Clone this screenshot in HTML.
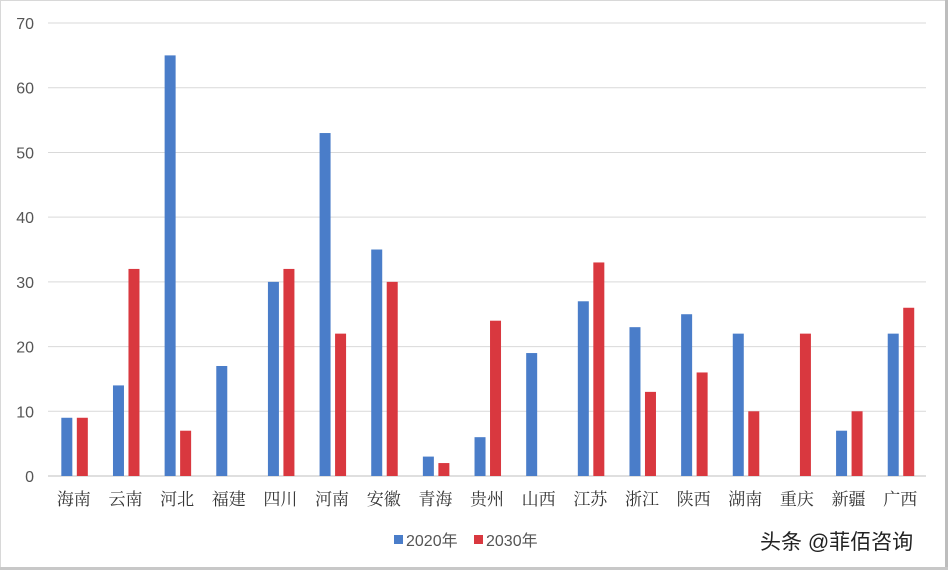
<!DOCTYPE html>
<html><head><meta charset="utf-8"><style>
html,body{margin:0;padding:0;background:#fff}
body{width:948px;height:570px;overflow:hidden;position:relative}
svg{position:absolute;left:0;top:0}
</style></head><body>
<svg id="c" width="948" height="570" xmlns="http://www.w3.org/2000/svg">
<rect x="0.5" y="0.5" width="946" height="568" fill="#fff" stroke="#d8d8d8"/>
<rect x="945" y="0" width="3" height="570" fill="#bdbdbd"/>
<rect x="0" y="567" width="948" height="3" fill="#c8c8c8"/>
</svg>
<script>
var s=document.getElementById('c'),ns='http://www.w3.org/2000/svg';
function el(t,a,txt){var e=document.createElementNS(ns,t);for(var k in a)e.setAttribute(k,a[k]);if(txt!=null)e.textContent=txt;s.appendChild(e);return e;}
var y0=476,k=6.471;
for(var i=0;i<=7;i++){var y=y0-i*10*k;el('line',{x1:48,x2:926,y1:y,y2:y,stroke:i==0?'#bfbfbf':'#d9d9d9','stroke-width':1});
el('text',{x:34,y:y+6,'text-anchor':'end','font-family':'Liberation Sans, sans-serif','font-size':16,fill:'#555'},i*10);}
var names=['海南','云南','河北','福建','四川','河南','安徽','青海','贵州','山西','江苏','浙江','陕西','湖南','重庆','新疆','广西'];
var b=[9,14,65,17,30,53,35,3,6,19,27,23,25,22,0,7,22];
var r=[9,32,7,0,32,22,30,2,24,0,33,13,16,10,22,10,26];
var w=51.65;
for(var i=0;i<17;i++){var c=48+w*(i+0.5);
if(b[i])el('rect',{x:c-12.5,y:y0-b[i]*k,width:11,height:b[i]*k,fill:'#4a7dc9'});
if(r[i])el('rect',{x:c+3,y:y0-r[i]*k,width:11,height:r[i]*k,fill:'#d9383f'});
el('text',{x:c,y:505,'text-anchor':'middle','font-family':'Noto Serif CJK SC, serif','font-size':17,fill:'#333'},names[i]);}
el('rect',{x:394,y:535,width:9,height:9,fill:'#4a7dc9'});
el('text',{x:406,y:546,'font-family':'Liberation Sans, Noto Sans CJK SC, sans-serif','font-size':16,fill:'#555'},'2020年');
el('rect',{x:474,y:535,width:9,height:9,fill:'#d9383f'});
el('text',{x:486,y:546,'font-family':'Liberation Sans, Noto Sans CJK SC, sans-serif','font-size':16,fill:'#555'},'2030年');
el('text',{x:760,y:549,'font-family':'Liberation Sans, Noto Sans CJK SC, sans-serif','font-size':21,fill:'#222'},'头条 @菲佰咨询');
</script>
</body></html>
